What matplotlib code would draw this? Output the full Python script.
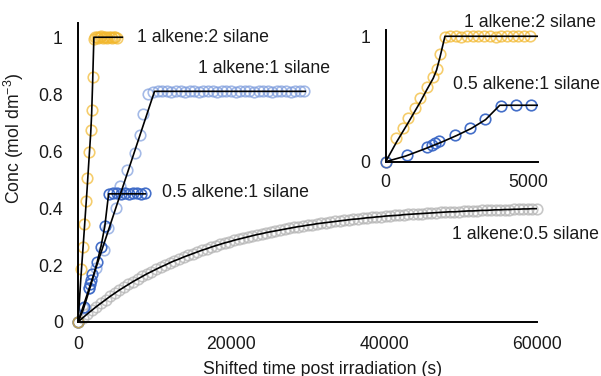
import matplotlib
matplotlib.use("Agg")
import matplotlib.pyplot as plt

plt.rcParams['font.family'] = ['Liberation Sans', 'DejaVu Sans']
plt.rcParams['mathtext.fontset'] = 'custom'
plt.rcParams['mathtext.rm'] = 'Liberation Sans'
plt.rcParams['mathtext.it'] = 'Liberation Sans'
plt.rcParams['mathtext.default'] = 'regular'

FS = 12.7

# ---------------- data ----------------
# 1 alkene : 2 silane (yellow)
yel_t = [0, 376, 610, 786, 1021, 1197, 1432, 1666, 1783, 1900, 2077, 2250, 2450,
         2650, 2850, 3050, 3250, 3450, 3650, 3850, 4050, 4250, 4450, 4650, 4850, 5050]
yel_c = [0.0, 0.186, 0.265, 0.345, 0.425, 0.504, 0.597, 0.676, 0.743, 0.862, 0.995,
         1.0, 1.002, 0.998, 1.0, 1.003, 0.999, 1.0, 1.001, 0.998, 1.0, 1.002, 0.999,
         1.0, 1.001, 0.999]
yel_fit_t = [0, 376, 786, 1197, 1432, 1666, 1783, 1900, 2077, 5800]
yel_fit_c = [0.0, 0.155, 0.31, 0.47, 0.57, 0.665, 0.73, 0.83, 1.0, 1.0]

# 1 alkene : 1 silane (light blue)
lb_t = [0, 700, 1500, 2300, 3400, 3920, 4950, 5500, 6360, 7450, 8100, 8540, 9190,
        9800, 10400, 11000, 11600, 12200, 12800, 13400, 14000, 14600, 15200, 15800,
        16400, 17000, 17600, 18200, 18800, 19400, 20000, 20600, 21200, 21800, 22400,
        23000, 23600, 24200, 24800, 25400, 26000, 26600, 27200, 27800, 28400, 29000,
        29600]
lb_c = [0.0, 0.05, 0.12, 0.19, 0.254, 0.33, 0.40, 0.476, 0.535, 0.594, 0.658, 0.729,
        0.799, 0.808, 0.811, 0.81, 0.812, 0.809, 0.81, 0.811, 0.808, 0.81, 0.812,
        0.809, 0.81, 0.811, 0.81, 0.808, 0.81, 0.811, 0.81, 0.809, 0.812, 0.81,
        0.811, 0.808, 0.81, 0.811, 0.81, 0.809, 0.81, 0.811, 0.81, 0.809, 0.81,
        0.811, 0.81]
lb_fit_t = [0, 10000, 29700]
lb_fit_c = [0.0, 0.81, 0.81]

# 0.5 alkene : 1 silane (dark blue)
db_t = [0, 736, 1437, 1613, 1728, 1880, 2430, 2956, 3482, 4040, 4570, 5100, 5630,
        6160, 6690, 7220, 7750, 8280, 8810]
db_c = [0.0, 0.053, 0.119, 0.133, 0.146, 0.167, 0.212, 0.265, 0.337, 0.448, 0.452,
        0.453, 0.451, 0.453, 0.45, 0.452, 0.454, 0.451, 0.452]
db_fit_t = [0, 700, 1400, 2000, 2500, 3000, 3500, 4000, 8800]
db_fit_c = [0.0, 0.045, 0.105, 0.16, 0.21, 0.265, 0.335, 0.45, 0.45]

# 1 alkene : 0.5 silane (grey)
gr_t = [0, 600, 1200, 1800, 2400, 3000, 3600, 4200, 4800, 5400, 6000, 6600, 7200,
        7800, 8400, 9000, 9600, 10200, 10800, 11400, 12000, 12600, 13200, 13800,
        14400, 15000, 15600, 16200, 16800, 17400, 18000, 18600, 19200, 19800, 20400,
        21000, 21600, 22200, 22800, 23400, 24000, 24600, 25200, 25800, 26400, 27000,
        27600, 28200, 28800, 29400, 30000, 30600, 31200, 31800, 32400, 33000, 33600,
        34200, 34800, 35400, 36000, 36600, 37200, 37800, 38400, 39000, 39600, 40200,
        40800, 41400, 42000, 42600, 43200, 43800, 44400, 45000, 45600, 46200, 46800,
        47400, 48000, 48600, 49200, 49800, 50400, 51000, 51600, 52200, 52800, 53400,
        54000, 54600, 55200, 55800, 56400, 57000, 57600, 58200, 58800, 59400, 60000]
gr_c = [0.000, 0.014, 0.028, 0.041, 0.054, 0.066, 0.078, 0.090, 0.101, 0.112, 0.122,
        0.132, 0.142, 0.151, 0.160, 0.169, 0.177, 0.185, 0.193, 0.200, 0.208, 0.215,
        0.221, 0.228, 0.234, 0.240, 0.246, 0.252, 0.257, 0.263, 0.268, 0.273, 0.278,
        0.282, 0.287, 0.291, 0.295, 0.299, 0.303, 0.307, 0.310, 0.314, 0.317, 0.320,
        0.323, 0.326, 0.329, 0.332, 0.335, 0.337, 0.340, 0.342, 0.345, 0.347, 0.349,
        0.351, 0.353, 0.355, 0.357, 0.359, 0.361, 0.362, 0.364, 0.366, 0.367, 0.369,
        0.370, 0.372, 0.373, 0.374, 0.375, 0.377, 0.378, 0.379, 0.380, 0.381, 0.382,
        0.383, 0.384, 0.385, 0.386, 0.387, 0.387, 0.388, 0.389, 0.390, 0.390, 0.391,
        0.392, 0.392, 0.393, 0.394, 0.394, 0.395, 0.395, 0.396, 0.396, 0.397, 0.397,
        0.398, 0.398]

main_xticks = [0, 20000, 40000, 60000]
main_xticklabels = ["0", "20000", "40000", "60000"]
main_yticks = [0, 0.2, 0.4, 0.6, 0.8, 1.0]
main_yticklabels = ["0", "0.2", "0.4", "0.6", "0.8", "1"]
inset_xticks = [0, 5000]
inset_xticklabels = ["0", "5000"]
inset_yticks = [0, 1]
inset_yticklabels = ["0", "1"]

# ---------------- styles ----------------
YEL = '#F2B82E'
LBL = '#7E9DDD'
DBL = '#3A67C6'
GRY = '#B5B5B5'
MS = 7.6
MEW = 1.2
LW = 1.2

W, H = 601, 376
fig = plt.figure(figsize=(W / 100, H / 100), dpi=100)

ax = fig.add_axes([78 / W, 1 - 322 / H, 459 / W, 299 / H])
ax.set_xlim(0, 60000)
ax.set_ylim(0, 1.05)


def style(a, xpad, ypad):
    for s in ['top', 'right']:
        a.spines[s].set_visible(False)
    for s in ['left', 'bottom']:
        a.spines[s].set_linewidth(1.4)
        a.spines[s].set_color('black')
    a.tick_params(axis='x', length=0, pad=xpad, labelsize=FS, colors='#1a1a1a')
    a.tick_params(axis='y', length=0, pad=ypad, labelsize=FS, colors='#1a1a1a')
    a.set_facecolor('none')


style(ax, 10.2, 10.8)
ax.set_xticks(main_xticks)
ax.set_xticklabels(main_xticklabels)
ax.set_yticks(main_yticks)
ax.set_yticklabels(main_yticklabels)

mk = dict(marker='o', linestyle='none', markerfacecolor='none', markersize=MS,
          markeredgewidth=MEW, clip_on=False)

ax.plot(gr_t, gr_c, markeredgecolor=GRY, alpha=0.75, **mk)
ax.plot(lb_t, lb_c, markeredgecolor=LBL, alpha=0.7, **mk)
ax.plot(db_t, db_c, markeredgecolor=DBL, alpha=0.95, **mk)
ax.plot(yel_t, yel_c, markeredgecolor=YEL, alpha=0.7, **mk)

ax.plot(gr_t, gr_c, color='black', lw=LW)
ax.plot(lb_fit_t, lb_fit_c, color='black', lw=LW)
ax.plot(db_fit_t, db_fit_c, color='black', lw=LW)
ax.plot(yel_fit_t, yel_fit_c, color='black', lw=LW)

ax.text(7710, 1.0, "1 alkene:2 silane", fontsize=FS, va='center', ha='left', color='#1a1a1a')
ax.text(15690, 0.89, "1 alkene:1 silane", fontsize=FS, va='center', ha='left', color='#1a1a1a')
ax.text(10980, 0.454, "0.5 alkene:1 silane", fontsize=FS, va='center', ha='left', color='#1a1a1a')
ax.text(48890, 0.306, "1 alkene:0.5 silane", fontsize=FS, va='center', ha='left', color='#1a1a1a')

# ---------------- inset ----------------
ins = fig.add_axes([385.7 / W, 1 - 161.7 / H, 152.3 / W, 131.7 / H])
ins.set_xlim(0, 5340)
ins.set_ylim(0, 1.05)
style(ins, 9.2, 10.8)
ins.set_xticks(inset_xticks)
ins.set_xticklabels(inset_xticklabels)
ins.set_yticks(inset_yticks)
ins.set_yticklabels(inset_yticklabels)

mk2 = dict(mk)
ins.plot(yel_t, yel_c, markeredgecolor=YEL, alpha=0.7, **mk2)
ins.plot(db_t[:12], db_c[:12], markeredgecolor=DBL, alpha=0.95, **mk2)
ins.plot(db_fit_t, db_fit_c, color='black', lw=LW)
ins.plot(yel_fit_t, yel_fit_c, color='black', lw=LW)

ins.text(2745, 1.11, "1 alkene:2 silane", fontsize=FS, va='center', ha='left',
         color='#1a1a1a', clip_on=False)
ins.text(2360, 0.618, "0.5 alkene:1 silane", fontsize=FS, va='center', ha='left',
         color='#1a1a1a', clip_on=False)

# ---------------- axis titles ----------------
fig.text(14 / W, 1 - 138.5 / H, r"Conc (mol dm$^{-3}$)", rotation=90, fontsize=FS,
         ha='center', va='center', color='#1a1a1a')
fig.text(323 / W, 2.5 / H, "Shifted time post irradiation (s)", fontsize=FS,
         ha='center', va='baseline', color='#1a1a1a')

fig.savefig("out.png", dpi=100)
